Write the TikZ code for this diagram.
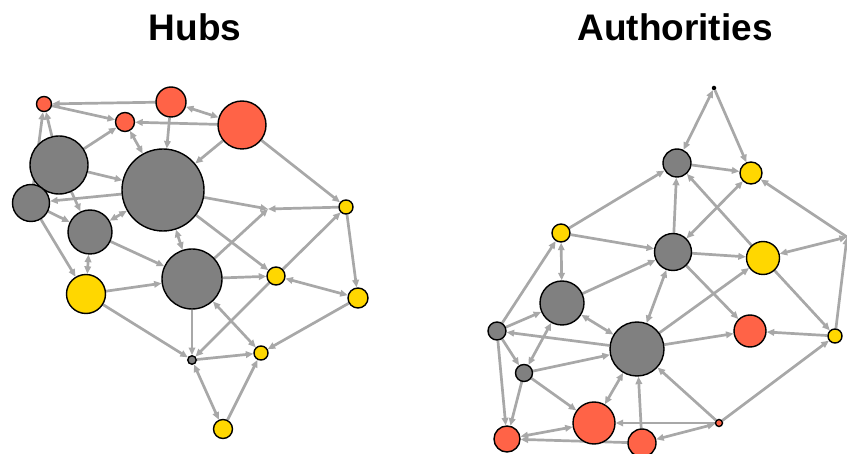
\documentclass[tikz,border=0pt]{standalone}
\usepackage{fontspec}
\setmainfont{Liberation Sans}
\usetikzlibrary{arrows.meta,backgrounds}
\definecolor{egray}{HTML}{A8A8A8}
\definecolor{vgray}{HTML}{808080}
\definecolor{vgold}{HTML}{FFD700}
\definecolor{vred}{HTML}{FF6347}
\begin{document}
\begin{tikzpicture}[x=1pt,y=-1pt,
  vtx/.style={circle,draw=black,line width=1.4pt,inner sep=0pt,outer sep=0.7pt},
  gv/.style={vtx,fill=vgray},
  yv/.style={vtx,fill=vgold},
  rv/.style={vtx,fill=vred},
  ttl/.style={font=\bfseries\fontsize{37}{40}\selectfont,anchor=base},
  edge/.style={draw=egray,line width=2.7pt,-{Triangle[length=7.5pt,width=6.5pt]}},
  bi/.style={draw=egray,line width=2.7pt,{Triangle[length=7.5pt,width=6.5pt]}-{Triangle[length=7.5pt,width=6.5pt]}}]
\useasboundingbox (0,0) rectangle (847,454);

\node[ttl] (t1) at (195,41) {Hubs};
\node[ttl] (t2) at (675,41) {Authorities};

% ---------- Hubs ----------
\node[rv,minimum size=15pt] (R1) at (44,104) {};
\node[rv,minimum size=30pt] (R2) at (171,102) {};
\node[rv,minimum size=19pt] (R3) at (125,122) {};
\node[rv,minimum size=48pt] (R4) at (242,125) {};
\node[gv,minimum size=58pt] (G1) at (59,165) {};
\node[gv,minimum size=82pt] (G2) at (163,190) {};
\node[gv,minimum size=37pt] (G3) at (31,203) {};
\node[gv,minimum size=44pt] (G4) at (90,232) {};
\node[gv,minimum size=60pt] (G5) at (192,279) {};
\node[yv,minimum size=39pt] (Y1) at (86,294) {};
\node[yv,minimum size=14pt] (Y2) at (346,207) {};
\node[yv,minimum size=18pt] (Y3) at (276,276) {};
\node[yv,minimum size=20pt] (Y4) at (358,298) {};
\node[gv,minimum size=8.5pt] (G6) at (192,360) {};
\node[yv,minimum size=14pt] (Y5) at (261,353) {};
\node[yv,minimum size=19pt] (Y6) at (223,429) {};
\coordinate (X) at (268,209);

% ---------- Authorities ----------
\node[circle,fill=black,inner sep=0pt,minimum size=4.5pt] (K) at (714,88) {};
\node[gv,minimum size=28pt] (Ga) at (677,163) {};
\node[yv,minimum size=22pt] (Ya) at (751,173) {};
\node[yv,minimum size=18pt] (Yb) at (561,233) {};
\node[gv,minimum size=37pt] (Gb) at (673,252) {};
\node[yv,minimum size=33pt] (Yc) at (763,258) {};
\coordinate (E) at (847,237);
\node[gv,minimum size=44pt] (Gc) at (562,303) {};
\node[rv,minimum size=32pt] (Rd) at (750,331) {};
\node[yv,minimum size=14pt] (Yd) at (835,336) {};
\node[gv,minimum size=18pt] (Gd) at (497,331) {};
\node[gv,minimum size=54pt] (Ge) at (637,349) {};
\node[gv,minimum size=17pt] (Gf) at (524,373) {};
\node[rv,minimum size=42pt] (Re) at (594,423) {};
\node[rv,minimum size=7pt] (Rf) at (719,423) {};
\node[rv,minimum size=26pt] (Rg) at (507,439) {};
\node[rv,minimum size=28pt] (Rh) at (642,443) {};

\begin{scope}[on background layer]
% Hubs edges
\draw[edge] (R2) -- (R1);
\draw[edge] (R1) -- (R3);
\draw[edge] (R4) -- (R3);
\draw[bi] (R2) -- (R4);
\draw[edge] (R2) -- (G2);
\draw[edge] (R4) -- (G2);
\draw[edge] (G1) -- (R1);
\draw[edge] (G3) -- (R1);
\draw[edge] (G1) -- (R3);
\draw[bi] (R3) -- (G2);
\draw[edge] (G1) -- (G2);
\draw[edge] (G2) -- (G3);
\draw[edge] (G1) -- (G4);
\draw[edge] (G3) -- (G4);
\draw[bi] (G4) -- (G2);
\draw[edge] (G2) -- (X);
\draw[edge] (Y2) -- (X);
\draw[edge] (G5) -- (X);
\draw[edge] (R4) -- (Y2);
\draw[edge] (G2) -- (Y3);
\draw[edge] (Y3) -- (Y2);
\draw[edge] (Y2) -- (Y4);
\draw[bi] (Y3) -- (Y4);
\draw[edge] (Y4) -- (Y5);
\draw[edge] (G5) -- (Y3);
\draw[bi] (G2) -- (G5);
\draw[edge] (G4) -- (G5);
\draw[edge] (G3) -- (Y1);
\draw[bi] (G4) -- (Y1);
\draw[edge] (Y1) -- (G5);
\draw[edge] (Y1) -- (G6);
\draw[edge] (G5) -- (G6);
\draw[edge] (Y3) -- (G6);
\draw[edge] (G6) -- (Y5);
\draw[bi] (G5) -- (Y5);
\draw[bi] (G6) -- (Y6);
\draw[edge] (Y6) -- (Y5);
% Authorities edges
\draw[bi] (K) -- (Ga);
\draw[edge] (K) -- (Ya);
\draw[edge] (Ga) -- (Ya);
\draw[edge] (Gb) -- (Ga);
\draw[edge] (Yc) -- (Ga);
\draw[bi] (Ya) -- (Gb);
\draw[edge] (E) -- (Ya);
\draw[bi] (Yc) -- (E);
\draw[edge] (Gb) -- (Yc);
\draw[edge] (Yb) -- (Ga);
\draw[edge] (Yb) -- (Gb);
\draw[bi] (Yb) -- (Gc);
\draw[edge] (Gd) -- (Yb);
\draw[edge] (Gc) -- (Gb);
\draw[bi] (Gb) -- (Ge);
\draw[edge] (Gb) -- (Rd);
\draw[edge] (Ge) -- (Yc);
\draw[edge] (Yc) -- (Yd);
\draw[edge] (Yd) -- (E);
\draw[edge] (Yd) -- (Rd);
\draw[edge] (Ge) -- (Rd);
\draw[edge] (Rf) -- (Yd);
\draw[edge] (Rf) -- (Ge);
\draw[edge] (Rf) -- (Re);
\draw[bi] (Rh) -- (Rf);
\draw[edge] (Rh) -- (Ge);
\draw[bi] (Re) -- (Ge);
\draw[edge] (Gf) -- (Re);
\draw[edge] (Gf) -- (Ge);
\draw[edge] (Ge) -- (Gd);
\draw[bi] (Gc) -- (Ge);
\draw[edge] (Gd) -- (Gc);
\draw[edge] (Gd) -- (Gf);
\draw[bi] (Gc) -- (Gf);
\draw[edge] (Gd) -- (Rg);
\draw[edge] (Gf) -- (Rg);
\draw[bi] (Rg) -- (Re);
\draw[edge] (Rh) -- (Rg);
\end{scope}
\end{tikzpicture}
\end{document}
